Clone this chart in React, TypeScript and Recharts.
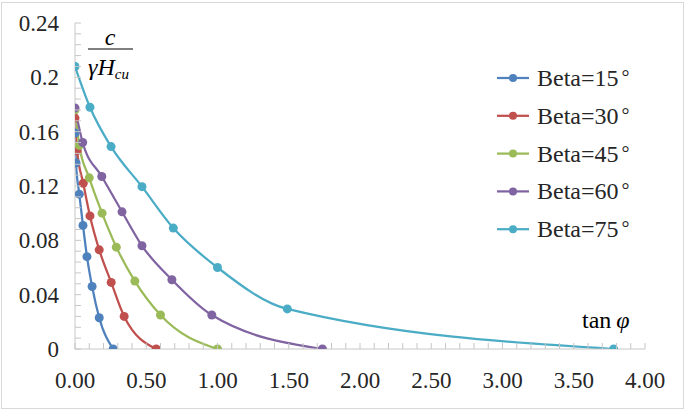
import React from 'react';
import { LineChart, Line, XAxis, YAxis, Legend, Label } from 'recharts';

if (typeof document !== 'undefined' && document.body) document.body.style.margin = '0';

// c/(gamma*H_cu) versus tan(phi), one curve per slope angle
const beta15X = [0, 0.007, 0.03, 0.056, 0.084, 0.12, 0.17, 0.268];
const beta15Y = [0.159, 0.137, 0.114, 0.091, 0.068, 0.046, 0.023, 0];
const beta30X = [0, 0.015, 0.058, 0.105, 0.17, 0.254, 0.345, 0.57];
const beta30Y = [0.17, 0.146, 0.122, 0.098, 0.073, 0.049, 0.024, 0];
const beta45X = [0, 0.03, 0.1, 0.19, 0.29, 0.42, 0.6, 1.0];
const beta45Y = [0.176, 0.15, 0.126, 0.1, 0.075, 0.05, 0.025, 0];
const beta60X = [0, 0.054, 0.188, 0.33, 0.47, 0.68, 0.96, 1.736];
const beta60Y = [0.1775, 0.152, 0.127, 0.101, 0.076, 0.051, 0.025, 0];
const beta75X = [0, 0.105, 0.253, 0.47, 0.69, 1.0, 1.49, 3.78];
const beta75Y = [0.208, 0.178, 0.149, 0.1195, 0.089, 0.06, 0.0295, 0];

const seriesNames = ['Beta=15', 'Beta=30', 'Beta=45', 'Beta=60', 'Beta=75'];
const seriesColors = ['#4f81bd', '#c0504d', '#9bbb59', '#8064a2', '#4bacc6'];

const xLabelTicks = [0, 0.5, 1, 1.5, 2, 2.5, 3, 3.5, 4];
const yLabelTicks = [0, 0.04, 0.08, 0.12, 0.16, 0.2, 0.24];

const xMinorStep = 0.1;
const yMinorStep = 0.008;

const FONT = 'Liberation Serif';
const AXIS = '#c6c6c6';
const BORDER = '#d9d9d9';

const toPoints = (xs: number[], ys: number[]) => xs.map((x, i) => ({ x, y: ys[i] }));
const seriesData = [
  toPoints(beta15X, beta15Y),
  toPoints(beta30X, beta30Y),
  toPoints(beta45X, beta45Y),
  toPoints(beta60X, beta60Y),
  toPoints(beta75X, beta75Y),
];

const minorTicks = (max: number, step: number) =>
  Array.from({ length: Math.round(max / step) + 1 }, (_, i) => +(i * step).toFixed(4));

const xTicks = minorTicks(4, xMinorStep);
const yTicks = minorTicks(0.24, yMinorStep);

const isLabelled = (v: number, list: number[]) => list.some((t) => Math.abs(t - v) < 1e-6);

const XTick = (props: any) => {
  const { x, y, payload } = props;
  const v = payload.value as number;
  return (
    <g>
      <line x1={x} x2={x} y1={y} y2={y - 6} stroke={AXIS} strokeWidth={1} />
      {isLabelled(v, xLabelTicks) && (
        <text x={x} y={y + 39} textAnchor="middle" fontFamily={FONT} fontSize={23} fill="#262626">
          {v.toFixed(2)}
        </text>
      )}
    </g>
  );
};

const YTick = (props: any) => {
  const { x, y, payload } = props;
  const v = payload.value as number;
  return (
    <g>
      <line x1={x} x2={x + 6} y1={y} y2={y} stroke={AXIS} strokeWidth={1} />
      {isLabelled(v, yLabelTicks) && (
        <text x={x - 16} y={y + 8} textAnchor="end" fontFamily={FONT} fontSize={23} fill="#262626">
          {String(+v.toFixed(2))}
        </text>
      )}
    </g>
  );
};

const LegendBox = () => (
  <svg width={170} height={190} style={{ display: 'block' }}>
    {seriesNames.map((name, i) => {
      const cy = 20 + i * 37.8;
      return (
        <g key={name}>
          <line x1={7} x2={39} y1={cy} y2={cy} stroke={seriesColors[i]} strokeWidth={2.25} />
          <circle cx={23} cy={cy} r={4} fill={seriesColors[i]} />
          <text x={47} y={cy + 8} fontFamily={FONT} fontSize={24} fill="#262626">
            {name}
            <tspan dx={3} fontSize={20} dy={-2}>°</tspan>
          </text>
        </g>
      );
    })}
  </svg>
);

const YTitle = () => (
  <g fill="#000">
    <text x={110} y={45} textAnchor="middle" fontStyle="italic" fontSize={24} fontFamily={FONT}>c</text>
    <line x1={88} x2={133} y1={49} y2={49} stroke="#000" strokeWidth={1.2} />
    <text x={88} y={75} fontStyle="italic" fontSize={24} fontFamily={FONT}>
      γH
      <tspan fontSize={15} dy={4}>cu</tspan>
    </text>
  </g>
);

const XTitle = () => (
  <text x={582} y={328} fontFamily={FONT} fontSize={24} fill="#000">
    tan
    <tspan dx={5} fontStyle="italic">φ</tspan>
  </text>
);

export default function App() {
  return (
    <div style={{ position: 'relative', width: 685, height: 411, background: '#fff', fontFamily: FONT }}>
      <div
        style={{
          position: 'absolute',
          left: 1,
          top: 2,
          width: 681,
          height: 405,
          border: `1px solid ${BORDER}`,
          pointerEvents: 'none',
        }}
      />
      <LineChart width={685} height={411} margin={{ top: 23, right: 40, bottom: 0, left: 0 }}>
        <XAxis
          xAxisId="b"
          type="number"
          dataKey="x"
          domain={[0, 4]}
          ticks={xTicks}
          interval={0}
          height={62}
          tickSize={0}
          tickMargin={0}
          tickLine={false}
          axisLine={{ stroke: AXIS, strokeWidth: 1 }}
          tick={<XTick />}
          allowDataOverflow
        >
          <Label content={<XTitle />} />
        </XAxis>
        <XAxis
          xAxisId="t"
          orientation="top"
          type="number"
          domain={[0, 4]}
          height={0}
          tick={false}
          tickLine={false}
          axisLine={{ stroke: BORDER, strokeWidth: 1 }}
        />
        <YAxis
          yAxisId="l"
          type="number"
          domain={[0, 0.24]}
          ticks={yTicks}
          interval={0}
          width={75}
          tickSize={0}
          tickMargin={0}
          tickLine={false}
          axisLine={{ stroke: AXIS, strokeWidth: 1 }}
          tick={<YTick />}
          allowDataOverflow
        >
          <Label content={<YTitle />} />
        </YAxis>
        <YAxis
          yAxisId="r"
          orientation="right"
          type="number"
          domain={[0, 0.24]}
          width={0}
          tick={false}
          tickLine={false}
          axisLine={{ stroke: BORDER, strokeWidth: 1 }}
        />
        <Legend
          layout="vertical"
          align="center"
          verticalAlign="middle"
          content={<LegendBox />}
          wrapperStyle={{ left: 490, top: 58, width: 170, height: 190 }}
        />
        {seriesData.map((data, i) => (
          <Line
            key={seriesNames[i]}
            xAxisId="b"
            yAxisId="l"
            data={data}
            dataKey="y"
            name={seriesNames[i]}
            type="monotone"
            stroke={seriesColors[i]}
            strokeWidth={2.25}
            dot={{ r: 4.5, fill: seriesColors[i], stroke: seriesColors[i], strokeWidth: 0 }}
            isAnimationActive={false}
          />
        ))}
      </LineChart>
    </div>
  );
}
